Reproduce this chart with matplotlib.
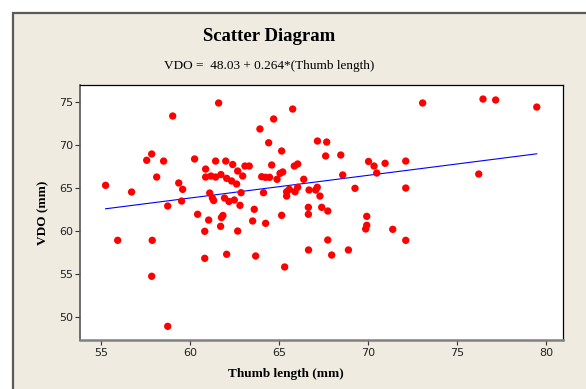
import matplotlib
matplotlib.use("Agg")
import matplotlib.pyplot as plt
from matplotlib.patches import Rectangle
import numpy as np

# thumb length (mm) and VDO (mm)
thumb = [55.26, 55.94, 56.72, 57.57, 57.85, 57.88, 57.85, 58.13, 58.52, 58.75,
         58.75, 59.03, 59.37, 59.59, 59.53, 60.26, 60.43, 60.83, 60.83, 60.88,
         60.88, 61.05, 61.11, 61.18, 61.26, 61.33, 61.44, 61.44, 61.61, 61.74,
         61.72, 61.77, 61.85, 61.94, 62.01, 62.06, 62.06, 62.19, 62.34, 62.40,
         62.49, 62.62, 62.68, 62.68, 62.81, 62.87, 62.96, 63.09, 63.33, 63.52,
         63.61, 63.69, 63.93, 64.03, 64.13, 64.24, 64.25, 64.47, 64.42, 64.59,
         64.70, 64.89, 65.06, 65.21, 65.15, 65.15, 65.32, 65.43, 65.58, 65.43,
         65.77, 65.86, 66.05, 65.90, 66.05, 66.39, 66.65, 66.65, 66.66, 66.69,
         67.06, 67.15, 67.16, 67.30, 67.40, 67.62, 67.68, 67.74, 67.74, 67.96,
         68.47, 68.58, 68.90, 69.27, 69.87, 69.93, 69.93, 70.03, 70.34, 70.49,
         70.96, 71.39, 72.12, 72.12, 72.12, 73.07, 76.22, 76.46, 77.17, 79.48]
vdo = [65.35, 58.95, 64.57, 68.26, 68.99, 58.95, 54.77, 66.31, 68.17, 62.94,
       48.95, 73.41, 65.62, 64.88, 63.52, 68.41, 61.98, 60.00, 56.86, 67.24,
       66.31, 61.31, 64.45, 66.43, 63.87, 63.58, 66.31, 68.17, 74.92, 66.60,
       60.58, 61.60, 61.84, 63.87, 68.17, 57.33, 66.16, 63.47, 65.85, 67.77,
       63.64, 65.50, 67.01, 60.03, 63.02, 64.49, 66.43, 67.59, 67.59, 61.20,
       62.56, 57.13, 71.90, 66.35, 64.49, 66.28, 60.93, 66.28, 70.30, 67.71,
       73.06, 66.05, 66.74, 66.90, 69.34, 61.86, 55.85, 64.60, 64.88, 64.10,
       74.22, 67.59, 67.83, 64.60, 65.12, 66.05, 62.79, 61.98, 57.83, 64.80,
       64.80, 65.12, 70.50, 64.10, 62.79, 68.76, 70.38, 62.36, 58.99, 57.24,
       68.87, 66.55, 57.83, 65.00, 60.27, 61.74, 60.70, 68.12, 67.59, 66.78,
       67.91, 60.23, 68.17, 65.03, 58.95, 74.92, 66.66, 75.38, 75.27, 74.45]

intercept, slope = 48.03, 0.264
xticks = [55, 60, 65, 70, 75, 80]
yticks = [50, 55, 60, 65, 70, 75]

W, H = 586, 389
fig = plt.figure(figsize=(W / 100, H / 100), dpi=100, facecolor="white")

# beige graph panel with grey frame (cropped at right / bottom)
fig.patches.append(Rectangle((13 / W, -0.05), 1.1, 1 - 13 / H + 0.05,
                             transform=fig.transFigure, facecolor="#efebe1",
                             edgecolor="#5a5a5a", linewidth=1.6, zorder=-5))

ax = fig.add_axes([80.3 / W, 1 - 340 / H, (563.3 - 80.3) / W, (340 - 85.3) / H])
ax.set_zorder(3)
ax.set_facecolor("white")

ax.scatter(thumb, vdo, s=28, color="#ff0000", edgecolors="none", zorder=3)
xs = np.array([min(thumb), max(thumb)])
ax.plot(xs, intercept + slope * xs, color="#0000ff", linewidth=0.8, zorder=2)

ax.set_xlim(53.84, 80.97)
ax.set_ylim(47.36, 76.98)
ax.set_xticks(xticks)
ax.set_yticks(yticks)
ax.tick_params(labelsize=8, length=3.5, width=0.8, color="#333333",
               labelcolor="#222222")
ax.tick_params(axis="x", pad=2)
ax.tick_params(axis="y", pad=1.5)
for side in ["top", "right"]:
    ax.spines[side].set_linewidth(0.9)
    ax.spines[side].set_color("black")
ax.spines["left"].set_color("#555555")
ax.spines["left"].set_linewidth(1.2)
ax.spines["bottom"].set_color("#808080")
ax.spines["bottom"].set_linewidth(1.8)

serif = "Liberation Serif"
fig.text(269 / W, 1 - 36.7 / H, "Scatter Diagram", ha="center", va="center",
         fontsize=13.5, fontweight="bold", family=serif)
fig.text(269.5 / W, 1 - 65.7 / H, "VDO =  48.03 + 0.264*(Thumb length)",
         ha="center", va="center", fontsize=9.5, family=serif)
fig.text(286 / W, 1 - 374 / H, "Thumb length (mm)", ha="center", va="center",
         fontsize=9.5, fontweight="bold", family=serif)
fig.text(43.3 / W, 1 - 212.6 / H, "VDO (mm)", ha="center", va="center",
         rotation=90, fontsize=9.5, fontweight="bold", family=serif)

fig.savefig("out.png", dpi=100, facecolor="white")
